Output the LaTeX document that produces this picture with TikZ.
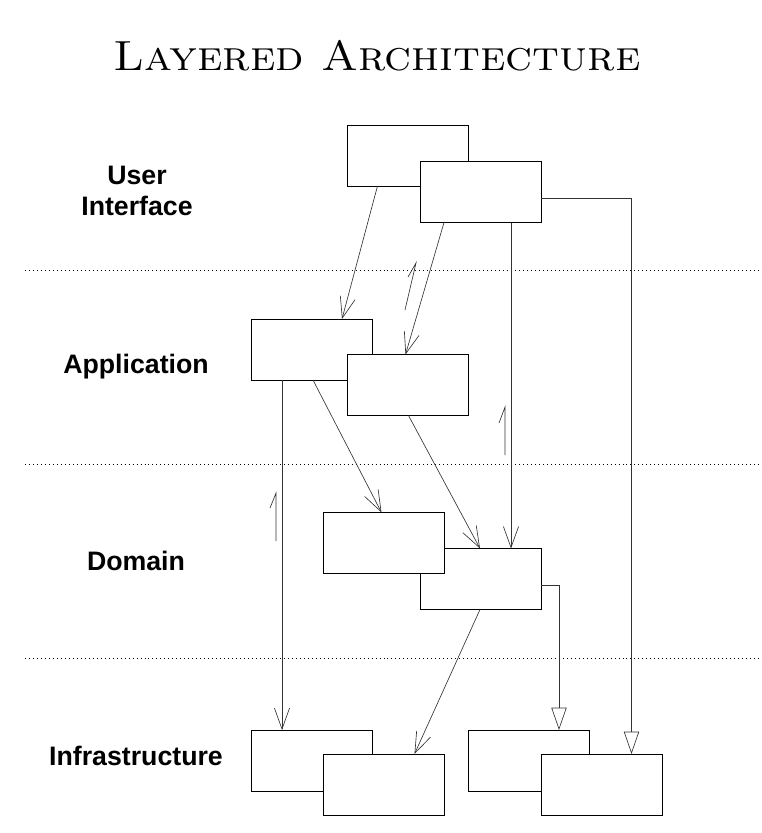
\documentclass[tikz,border=0pt]{standalone}
\usepackage{fontspec}
\newfontfamily\labelfont{Liberation Sans}
\usetikzlibrary{arrows.meta,calc}

\begin{document}
\begin{tikzpicture}[x=0.03cm, y=-0.03cm,
  box/.style={draw, fill=white, line width=0.7pt, minimum width=3.63cm, minimum height=1.83cm, inner sep=0pt, outer sep=0pt},
  dep/.style={draw=black!80, line width=0.55pt, -{Straight Barb[length=18pt, width=13pt]}},
  gen/.style={draw=black!80, line width=0.55pt, -{Triangle[open, length=19pt, width=13pt]}},
  layer/.style={font=\labelfont\bfseries\fontsize{22.8}{27}\selectfont, align=center},
  sep/.style={line width=0.8pt, dash pattern=on 0.8pt off 2.6pt},
  hint/.style={draw=black!80, line width=0.55pt}]
\useasboundingbox (0,0) rectangle (762,833);

\node[anchor=base] (title) at (377,70) {\scalebox{1.08}[1]{\fontsize{36}{40}\selectfont\textsc{Layered Architecture}}};

% layer separators
\foreach \y in {270,464,658}
  \draw[sep] (25,\y) -- (762,\y);

\node[layer] (ui) at (137,191) {User\\Interface};
\node[layer] (app) at (136,367) {Application};
\node[layer] (dom) at (136,561) {Domain};
\node[layer] (infra) at (136,756) {Infrastructure};

% user interface
\node[box] (U1) at (408,155.5) {};
\node[box] (U2) at (480.5,192) {};
% application
\node[box] (A1) at (311.5,349.5) {};
\node[box] (A2) at (408,385) {};
% domain
\node[box] (D2) at (480.5,579) {};
\node[box] (D1) at (384,543) {};
% infrastructure
\node[box] (I1) at (311.5,760.5) {};
\node[box] (I2) at (384,784.5) {};
\node[box] (I3) at (529,760.5) {};
\node[box] (I4) at (601.5,784.5) {};

\draw[dep] ($(U1.south west)+(30,0)$) -- ($(A1.north west)+(91,0)$);
\draw[dep] ($(U2.south west)+(24,0)$) -- ($(A2.north west)+(58,0)$);
\draw[dep] ($(U2.south west)+(91,0)$) -- ($(D2.north west)+(91,0)$);
\draw[gen] ($(U2.east)+(0,6)$) -| ($(I4.north)+(30,0)$);

\draw[dep] ($(A1.south west)+(31,0)$) -- ($(I1.north west)+(31,0)$);
\draw[dep] ($(A1.south west)+(62,0)$) -- ($(D1.north west)+(58,0)$);
\draw[dep] ($(A2.south west)+(61,0)$) -- ($(D2.north west)+(60,0)$);

\draw[dep] ($(D2.south west)+(60,0)$) -- ($(I2.north west)+(91,0)$);
\draw[gen] ($(D2.east)+(0,6)$) -| ($(I3.north)+(30,0)$);

% direction hints
\draw[hint] (405,310) -- (416,263) -- (408,277);
\draw[hint] (276,541) -- (276,493) -- (270,508);
\draw[hint] (505,455) -- (505,407) -- (499,423);

\end{tikzpicture}
\end{document}
